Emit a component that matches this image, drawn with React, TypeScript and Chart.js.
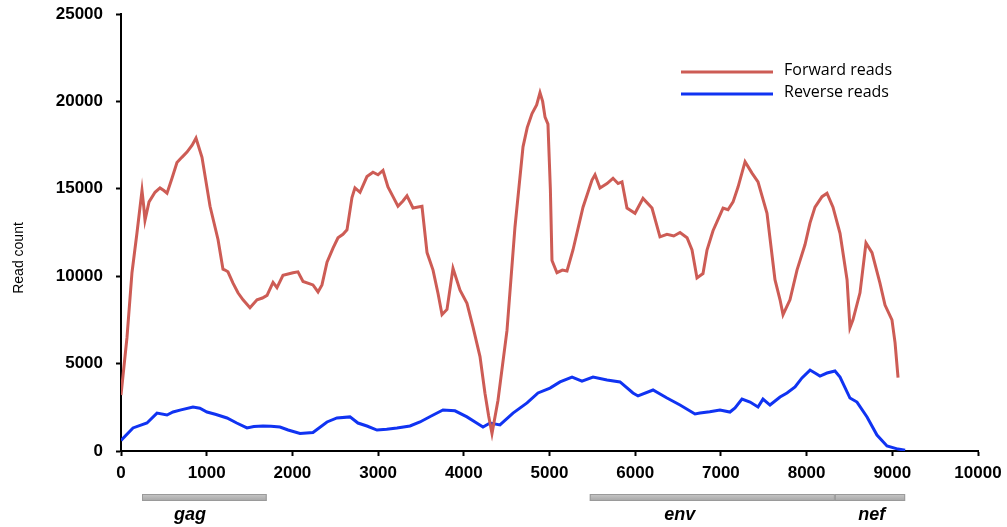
import React, { useEffect, useRef } from "react";
import { Chart, registerables } from "chart.js";

Chart.register(...registerables);

const forwardPos = [0,70,128,187,245,265,280,327,397,455,500,537,595,653,710,770,830,875,945,1039,1132,1190,1214,1248,1307,1365,1424,1505,1587,1650,1704,1774,1820,1890,2007,2065,2124,2240,2299,2345,2404,2474,2532,2590,2637,2695,2730,2789,2870,2940,2999,3057,3115,3174,3232,3290,3337,3407,3512,3571,3641,3700,3746,3804,3874,3956,4037,4107,4189,4247,4290,4329,4399,4504,4597,4691,4740,4796,4850,4889,4920,4948,4982,5010,5029,5087,5150,5204,5274,5391,5496,5531,5589,5671,5741,5800,5846,5904,5998,6091,6196,6289,6371,6450,6523,6605,6663,6721,6791,6838,6908,7025,7083,7142,7200,7282,7363,7433,7538,7631,7690,7725,7806,7888,7981,8040,8098,8180,8238,8308,8390,8472,8506,8541,8623,8693,8763,8856,8915,8996,9032,9067];
const forwardReads = [3200,6500,10200,12500,14900,14000,13200,14250,14800,15050,14900,14750,15600,16500,16800,17100,17500,17900,16800,14000,12100,10400,10350,10250,9600,9050,8650,8200,8650,8750,8900,9650,9350,10050,10200,10250,9700,9500,9100,9500,10800,11600,12200,12400,12650,14500,15050,14800,15700,15950,15800,16050,15100,14550,14000,14300,14600,13900,14000,11350,10350,9000,7800,8100,10450,9200,8450,7100,5400,3300,2000,1000,2900,6900,12800,17400,18500,19300,19800,20500,20000,19100,18700,15000,10900,10200,10350,10300,11500,13950,15500,15800,15050,15300,15600,15300,15400,13900,13600,14450,13900,12250,12400,12300,12500,12200,11500,9900,10150,11500,12600,13900,13800,14250,15100,16550,15900,15400,13600,9800,8650,7800,8650,10350,11800,13050,13950,14550,14750,13950,12450,9800,7050,7500,9050,11900,11350,9600,8350,7500,6200,4200];

const reversePos = [0,140,303,420,537,607,700,840,920,1003,1100,1237,1350,1470,1550,1657,1750,1855,1950,2089,2240,2404,2520,2672,2765,2870,2987,3100,3220,3372,3489,3620,3757,3897,4037,4150,4224,4306,4422,4574,4738,4866,5006,5123,5263,5379,5508,5671,5823,5974,6033,6208,6371,6523,6698,6756,6870,6989,7106,7165,7246,7340,7433,7491,7573,7690,7771,7865,7946,8040,8098,8156,8238,8331,8390,8506,8588,8705,8821,8938,9067,9150];
const reverseReads = [600,1320,1600,2170,2060,2230,2350,2520,2450,2230,2100,1890,1600,1320,1400,1430,1420,1370,1200,1000,1060,1660,1890,1950,1600,1430,1200,1250,1320,1430,1660,2000,2350,2300,1950,1600,1370,1600,1490,2170,2750,3320,3600,3950,4230,4000,4230,4060,3950,3320,3150,3490,3030,2630,2120,2170,2250,2350,2230,2460,2970,2800,2520,2970,2630,3090,3320,3660,4180,4630,4460,4290,4460,4580,4230,3030,2800,1950,915,290,110,50];

const seriesNames = ["Forward reads", "Reverse reads"];
const seriesColors = ["#cd5c55", "#1033f2"];

const geneNames = ["gag", "env", "nef"];
const geneStart = [245, 5470, 8330];
const geneEnd = [1700, 8330, 9150];
const geneLabelAt = [805, 6520, 8760];

const xTicks = [0, 1000, 2000, 3000, 4000, 5000, 6000, 7000, 8000, 9000, 10000];
const yTicks = [0, 5000, 10000, 15000, 20000, 25000];
const yTitle = "Read count";

const overlayPlugin = {
  id: "overlay",
  afterDraw(chart: any) {
    const ctx = chart.ctx;
    const xs = chart.scales.x;
    ctx.save();
    ctx.fillStyle = "#000";
    ctx.font = "14px 'Liberation Sans', Arial, sans-serif";
    ctx.textAlign = "center";
    ctx.textBaseline = "middle";
    ctx.translate(19, 258);
    ctx.rotate(-Math.PI / 2);
    ctx.fillText(yTitle, 0, 0);
    ctx.restore();

    ctx.save();
    const legendY = [72, 94];
    seriesNames.forEach((name, i) => {
      ctx.strokeStyle = seriesColors[i];
      ctx.lineWidth = 3;
      ctx.beginPath();
      ctx.moveTo(681, legendY[i]);
      ctx.lineTo(773, legendY[i]);
      ctx.stroke();
      ctx.fillStyle = "#000";
      ctx.font = "16px 'Open Sans', sans-serif";
      ctx.textAlign = "left";
      ctx.textBaseline = "middle";
      ctx.fillText(name, 784, legendY[i] - 2);
    });
    ctx.restore();

    ctx.save();
    geneNames.forEach((g, i) => {
      const x1 = xs.getPixelForValue(geneStart[i]);
      const x2 = xs.getPixelForValue(geneEnd[i]);
      const grad = ctx.createLinearGradient(0, 494, 0, 502);
      grad.addColorStop(0, "#c8c8c8");
      grad.addColorStop(1, "#a0a0a0");
      ctx.fillStyle = grad;
      ctx.fillRect(x1, 494, x2 - x1, 7);
      ctx.strokeStyle = "#9a9a9a";
      ctx.lineWidth = 1;
      ctx.strokeRect(x1 + 0.5, 494.5, x2 - x1 - 1, 6);
      ctx.fillStyle = "#000";
      ctx.font = "italic bold 18px 'Liberation Sans', Arial, sans-serif";
      ctx.textAlign = "center";
      ctx.textBaseline = "alphabetic";
      ctx.fillText(g, xs.getPixelForValue(geneLabelAt[i]), 520);
    });
    ctx.restore();
  },
};

export default function App() {
  const ref = useRef<HTMLCanvasElement>(null);
  useEffect(() => {
    if (!ref.current) return;
    const chart = new Chart(ref.current, {
      type: "line",
      data: {
        datasets: [
          {
            label: seriesNames[0],
            data: forwardPos.map((x, i) => ({ x, y: forwardReads[i] })),
            borderColor: seriesColors[0],
            borderWidth: 3,
            pointRadius: 0,
            fill: false,
            tension: 0,
          },
          {
            label: seriesNames[1],
            data: reversePos.map((x, i) => ({ x, y: reverseReads[i] })),
            borderColor: seriesColors[1],
            borderWidth: 3,
            pointRadius: 0,
            fill: false,
            tension: 0,
          },
        ],
      },
      options: {
        responsive: false,
        animation: false,
        layout: { padding: { left: 0, top: 14, right: 29, bottom: 0 } },
        plugins: { legend: { display: false }, tooltip: { enabled: false } },
        scales: {
          x: {
            type: "linear",
            min: 0,
            max: 10000,
            afterFit(scale: any) {
              scale.height = 76;
              scale.paddingLeft = 0;
              scale.paddingRight = 0;
            },
            afterBuildTicks(scale: any) {
              scale.ticks = xTicks.map((v) => ({ value: v }));
            },
            border: { display: true, color: "#000", width: 2 },
            grid: { display: true, drawOnChartArea: false, tickLength: 5, tickColor: "#000", tickWidth: 2 },
            ticks: {
              color: "#000",
              padding: 7,
              maxRotation: 0,
              font: { family: "'Liberation Sans', Arial, sans-serif", size: 17, weight: "bold" },
              callback: (v: any) => String(v),
            },
          },
          y: {
            type: "linear",
            min: 0,
            max: 25000,
            afterFit(scale: any) {
              scale.width = 121;
              scale.paddingTop = 0;
              scale.paddingBottom = 0;
            },
            afterBuildTicks(scale: any) {
              scale.ticks = yTicks.map((v) => ({ value: v }));
            },
            border: { display: true, color: "#000", width: 2 },
            grid: { display: true, drawOnChartArea: false, tickLength: 5, tickColor: "#000", tickWidth: 2 },
            ticks: {
              color: "#000",
              padding: 13,
              font: { family: "'Liberation Sans', Arial, sans-serif", size: 17, weight: "bold" },
              callback: (v: any) => String(v),
            },
          },
        },
      },
      plugins: [overlayPlugin],
    });
    return () => chart.destroy();
  }, []);
  return (
    <div style={{ position: "fixed", left: 0, top: 0, width: 1007, height: 527, background: "#fff" }}>
      <canvas ref={ref} width={1007} height={527} style={{ width: 1007, height: 527 }} />
    </div>
  );
}
